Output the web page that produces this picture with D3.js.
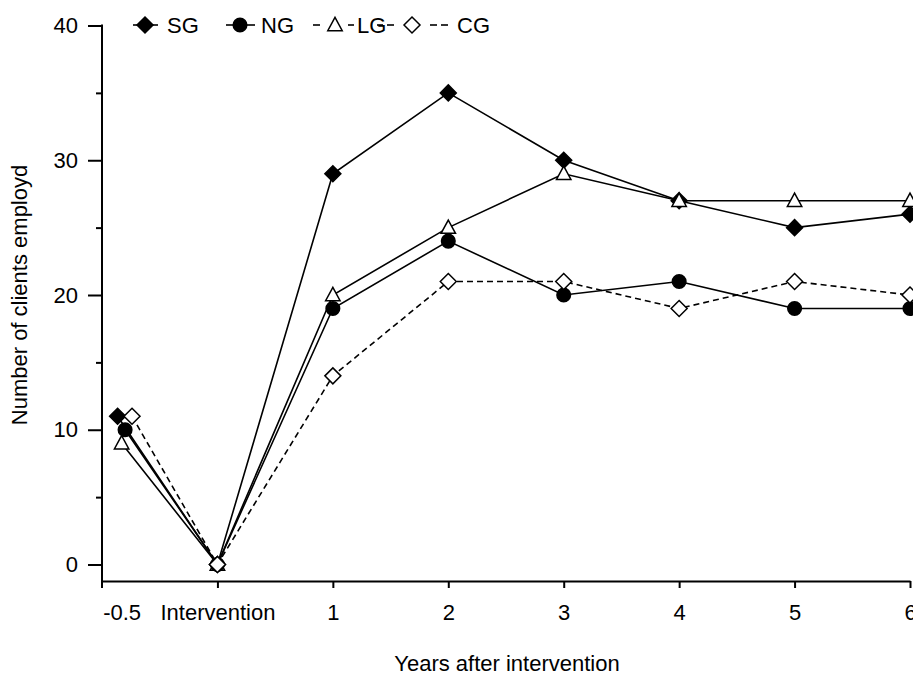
<!DOCTYPE html>
<html>
<head>
<meta charset="utf-8">
<script src="https://cdn.jsdelivr.net/npm/d3@7"></script>
<style>
  body { margin: 0; background: #fff; }
  svg { display: block; font-family: "Liberation Sans", Arial, sans-serif; }
</style>
</head>
<body>
<div id="chart"></div>
<script>
// Category positions on the x axis (pre-intervention point sits left of "Intervention")
var xLabels = ['-0.5', 'Intervention', '1', '2', '3', '4', '5', '6'];
var xPositions = [-0.83, 0, 1, 2, 3, 4, 5, 6];
// small horizontal jitter of the first point per series, in x units
var preOffsets = { SG: -0.035, NG: 0.03, LG: 0.0, CG: 0.09 };

// Series values
var sgValues = [11, 0, 29, 35, 30, 27, 25, 26];
var ngValues = [10, 0, 19, 24, 20, 21, 19, 19];
var lgValues = [9, 0, 20, 25, 29, 27, 27, 27];
var cgValues = [11, 0, 14, 21, 21, 19, 21, 20];

var yMajorTicks = [0, 10, 20, 30, 40];
var yMinorTicks = [5, 15, 25, 35];

var series = [
  { name: 'SG', values: sgValues, symbol: 'diamond', fill: '#000', dash: null },
  { name: 'LG', values: lgValues, symbol: 'triangle', fill: '#fff', dash: null },
  { name: 'NG', values: ngValues, symbol: 'circle', fill: '#000', dash: null },
  { name: 'CG', values: cgValues, symbol: 'diamond', fill: '#fff', dash: '6,4' }
];

var width = 913, height = 677;

var svg = d3.select('#chart').append('svg')
  .attr('width', width)
  .attr('height', height);

var x = d3.scaleLinear().domain([-1, 6]).range([102, 910]);
var y = d3.scaleLinear().domain([0, 40]).range([564.5, 25.5]);
var axisY = 581;

// y axis (major + minor ticks)
var yAxisG = svg.append('g')
  .attr('transform', 'translate(' + x(-1) + ',0)')
  .call(d3.axisLeft(y).tickValues(yMajorTicks).tickSize(14).tickPadding(10).tickSizeOuter(0));
yAxisG.select('.domain').remove();
yAxisG.selectAll('line').attr('stroke-width', 2);
yAxisG.selectAll('text').attr('font-size', 22).attr('fill', '#000');
yAxisG.append('g')
  .call(d3.axisLeft(y).tickValues(yMinorTicks).tickSize(6).tickFormat(''))
  .call(function (g) { g.select('.domain').remove(); })
  .selectAll('line').attr('stroke-width', 2);
svg.append('line')
  .attr('x1', x(-1)).attr('x2', x(-1))
  .attr('y1', y(40) - 1).attr('y2', axisY + 7)
  .attr('stroke', '#000').attr('stroke-width', 2);

// x axis
var xAxisG = svg.append('g')
  .attr('transform', 'translate(0,' + axisY + ')')
  .call(d3.axisBottom(x).tickValues(xPositions).tickSize(7).tickPadding(16).tickSizeOuter(0)
    .tickFormat(function (d, i) { return xLabels[i]; }));
xAxisG.select('.domain').attr('stroke-width', 2);
xAxisG.selectAll('line').attr('stroke-width', 2);
xAxisG.selectAll('.tick').filter(function (d) { return d < 0; }).select('line').remove();
xAxisG.selectAll('text').attr('font-size', 22).attr('fill', '#000');

// axis titles
svg.append('text')
  .attr('x', 507).attr('y', 671)
  .attr('text-anchor', 'middle')
  .attr('font-size', 22)
  .text('Years after intervention');

svg.append('text')
  .attr('transform', 'translate(27,' + y(20) + ') rotate(-90)')
  .attr('text-anchor', 'middle')
  .attr('font-size', 22)
  .text('Number of clients employd');

// marker drawing
function drawMarker(g, type, fill, size) {
  if (type === 'circle') {
    g.append('circle').attr('r', size * 0.85).attr('fill', fill).attr('stroke', '#000').attr('stroke-width', 1.5);
  } else if (type === 'diamond') {
    var s = size;
    g.append('path')
      .attr('d', 'M0,' + (-s) + 'L' + s + ',0L0,' + s + 'L' + (-s) + ',0Z')
      .attr('fill', fill).attr('stroke', '#000').attr('stroke-width', 1.5);
  } else if (type === 'triangle') {
    var h = size * 0.95;
    g.append('path')
      .attr('d', 'M0,' + (-h) + 'L' + (h * 0.95) + ',' + (h * 0.75) + 'L' + (-h * 0.95) + ',' + (h * 0.75) + 'Z')
      .attr('fill', fill).attr('stroke', '#000').attr('stroke-width', 1.5);
  }
}

function pointsOf(s) {
  return s.values.map(function (v, i) {
    var xv = xPositions[i] + (i === 0 ? preOffsets[s.name] : 0);
    return [x(xv), y(v)];
  });
}

var line = d3.line();

// lines first
series.forEach(function (s) {
  svg.append('path')
    .attr('d', line(pointsOf(s)))
    .attr('fill', 'none')
    .attr('stroke', '#000')
    .attr('stroke-width', 1.6)
    .attr('stroke-dasharray', s.dash);
});

// then markers
series.forEach(function (s) {
  pointsOf(s).forEach(function (p) {
    var g = svg.append('g').attr('transform', 'translate(' + p[0] + ',' + p[1] + ')');
    drawMarker(g, s.symbol, s.fill, 8);
  });
});

// legend: each item has line pieces drawn around its marker
var legendItems = [
  { name: 'SG', symbol: 'diamond', fill: '#000', segs: [[133, 158]], cx: 145, tx: 167 },
  { name: 'NG', symbol: 'circle', fill: '#000', segs: [[226, 233], [247, 255]], cx: 240, tx: 261 },
  { name: 'LG', symbol: 'triangle', fill: '#fff', segs: [[313, 320], [348, 354]], cx: 335, tx: 357 },
  { name: 'CG', symbol: 'diamond', fill: '#fff', segs: [[377, 383], [387, 394], [430, 437], [441, 448]], cx: 412, tx: 457 }
];
var legendY = 25;
legendItems.forEach(function (d) {
  d.segs.forEach(function (s) {
    svg.append('line')
      .attr('x1', s[0]).attr('x2', s[1])
      .attr('y1', legendY).attr('y2', legendY)
      .attr('stroke', '#000').attr('stroke-width', 1.6);
  });
  var g = svg.append('g').attr('transform', 'translate(' + d.cx + ',' + legendY + ')');
  drawMarker(g, d.symbol, d.fill, 8);
  svg.append('text')
    .attr('x', d.tx).attr('y', legendY + 8)
    .attr('font-size', 22)
    .text(d.name);
});
</script>
</body>
</html>
